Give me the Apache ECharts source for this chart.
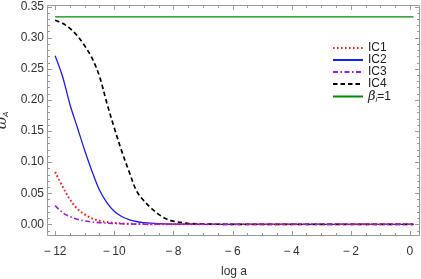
<!DOCTYPE html>
<html><head><meta charset="utf-8">
<script src="https://cdn.jsdelivr.net/npm/echarts@6/dist/echarts.min.js"></script>
<style>html,body{margin:0;padding:0;background:#fff}#c{width:421px;height:279px}#err{position:absolute;left:60px;top:120px;font:9px monospace;color:#c00;width:350px}</style>
</head><body><div id="c"></div><div id="err"></div>
<script>
window.onerror = function (m) { document.getElementById('err').textContent += ' ERR: ' + m; };
// ---- data ----
const seriesNames = ['IC1', 'IC2', 'IC3', 'IC4', 'β=1'];
const ic1 = [[-12,0.084],[-11.75,0.061],[-11.5,0.040],[-11.25,0.025],[-11,0.016],[-10.75,0.0095],[-10.5,0.0058],[-10.25,0.0036],[-10,0.0022],[-9.5,0.0009],[-9,0.0003],[-8,0],[0.12,0]];
const ic2 = [[-12,0.271],[-11.75,0.238],[-11.5,0.193],[-11.25,0.156],[-11,0.119],[-10.75,0.085],[-10.5,0.055],[-10.25,0.035],[-10,0.021],[-9.75,0.0125],[-9.5,0.0075],[-9.25,0.0045],[-9,0.0027],[-8.5,0.001],[-8,0.0004],[-7,0.00005],[-6,0],[0.12,0]];
const ic3 = [[-12,0.030],[-11.75,0.019],[-11.5,0.0125],[-11.25,0.0082],[-11,0.0055],[-10.75,0.0038],[-10.5,0.0027],[-10,0.0013],[-9.5,0.0006],[-9,0.0002],[-8,0],[0.12,0]];
const ic4 = [[-12,0.328],[-11.75,0.323],[-11.5,0.315],[-11.25,0.303],[-11,0.287],[-10.75,0.267],[-10.5,0.238],[-10.25,0.195],[-10,0.155],[-9.75,0.118],[-9.5,0.085],[-9.25,0.054],[-9,0.038],[-8.75,0.026],[-8.5,0.016],[-8.25,0.009],[-8,0.005],[-7.5,0.0015],[-7,0.0004],[-6,0],[0.12,0]];
const beta1 = [[-12,1/3],[0.12,1/3]];
const xMajor = [-12,-10,-8,-6,-4,-2,0];
const yMajor = [0,0.05,0.10,0.15,0.20,0.25,0.30,0.35];
const xName = 'log a';
// ---- layout ----
const xMin = -12.24, xMax = 0.34, yMin = -0.0188, yMax = 0.3525;
const xMinor = [];
for (let k = -24; k <= 0; k++) { if (k % 4 !== 0) xMinor.push(k/2); }
const yMinor = [];
for (let k = -1; k <= 35; k++) { if (k % 5 !== 0) yMinor.push(k/100); }
const frameColor = '#9a9a9a';
const font = 'Liberation Sans, Arial, sans-serif';

const lw = 1.3;
const option = {
  animation:false,
  grid:{left:48, right:1, top:5, bottom:43, containLabel:false, outerBoundsMode:'none'},
  xAxis:{ type:'value', min:xMin, max:xMax,
    axisLine:{show:false}, axisTick:{show:false}, splitLine:{show:false},
    axisLabel:{show:true, customValues: xMajor, margin:10, color:'#333', fontSize:12, fontFamily:font,
      formatter: v => v < 0 ? '\u2212\u2009' + Math.abs(v) : String(v)},
    name: xName, nameLocation:'middle', nameGap:30,
    nameTextStyle:{color:'#333', fontSize:12, fontFamily:font} },
  yAxis:{ type:'value', min:yMin, max:yMax,
    axisLine:{show:false}, axisTick:{show:false}, splitLine:{show:false},
    axisLabel:{show:true, customValues: yMajor, margin:4, color:'#333', fontSize:12, fontFamily:font,
      formatter: v => v.toFixed(2)},
    name: '{w|ω}{s|A}', nameLocation:'middle', nameGap:33, nameRotate:90,
    nameTextStyle:{rich:{w:{fontSize:15, fontStyle:'italic', fontFamily:'DejaVu Serif, serif', color:'#333'},
      s:{fontSize:8, fontStyle:'italic', fontFamily:font, color:'#333', verticalAlign:'bottom', padding:[6,0,0,0]}}} },
  legend:{ orient:'vertical', left:327, top:37, itemWidth:30, itemHeight:10, itemGap:0,
    itemStyle:{opacity:0},
    textStyle:{fontSize:12, fontFamily:font, color:'#222',
      rich:{b:{fontSize:13, lineHeight:14, fontStyle:'italic', fontFamily:'DejaVu Serif, serif', color:'#222'},
            i:{fontSize:8, lineHeight:14, fontStyle:'italic', fontFamily:font, color:'#222', verticalAlign:'bottom'},
            n:{fontSize:12, lineHeight:14, fontFamily:font, color:'#222'}}},
    formatter: n => n === 'β=1' ? '{b|β}{i|i}{n|=1}' : '{n|' + n + '}',
    data: seriesNames },
  series:[
    {name:seriesNames[4], type:'line', data:beta1, symbol:'none', z:2, lineStyle:{color:'#008a00', width:lw}, itemStyle:{color:'#008a00'}},
    {name:seriesNames[1], type:'line', data:ic2, symbol:'none', z:2, smooth:0.35, lineStyle:{color:'#1a1aff', width:lw}, itemStyle:{color:'#1a1aff'}},
    {name:seriesNames[3], type:'line', data:ic4, symbol:'none', z:2, smooth:0.35, lineStyle:{color:'#000', width:1.7, type:[4.5,3]}, itemStyle:{color:'#000'}},
    {name:seriesNames[0], type:'line', data:ic1, symbol:'none', z:2, smooth:0.35, lineStyle:{color:'#ff1a1a', width:2, type:[1.6,2.4]}, itemStyle:{color:'#ff1a1a'}},
    {name:seriesNames[2], type:'line', data:ic3, symbol:'none', z:2, smooth:0.35, lineStyle:{color:'#9a1ee6', width:1.6, type:[5,2.5,1.5,2.5]}, itemStyle:{color:'#9a1ee6'}}
  ]
};
const chart = echarts.init(document.getElementById('c'), null, {renderer:'canvas'});
chart.setOption(option);

// frame + inward ticks as graphic elements, positioned through the axis scales
const px = p => chart.convertToPixel({gridIndex:0}, p);
const a = px([xMin, yMin]), b = px([xMax, yMax]);
const L = Math.round(a[0]) - 0.5, B = Math.round(a[1]) - 0.5, R = Math.round(b[0]) - 0.5, T = Math.round(b[1]) + 0.5;
const st = {stroke: frameColor, lineWidth: 1};
const els = [{type:'rect', z:1, silent:true, shape:{x:L, y:T, width:R-L, height:B-T}, style:{fill:'rgba(0,0,0,0)', stroke:frameColor, lineWidth:1}}];
function xt(vals, len) { vals.forEach(v => { const x = Math.round(px([v, 0])[0]) + 0.5;
  els.push({type:'line', z:1, silent:true, shape:{x1:x, y1:B, x2:x, y2:B-len}, style:st});
  els.push({type:'line', z:1, silent:true, shape:{x1:x, y1:T, x2:x, y2:T+len}, style:st}); }); }
function yt(vals, len) { vals.forEach(v => { const y = Math.round(px([0, v])[1]) + 0.5;
  els.push({type:'line', z:1, silent:true, shape:{x1:L, y1:y, x2:L+len, y2:y}, style:st});
  els.push({type:'line', z:1, silent:true, shape:{x1:R, y1:y, x2:R-len, y2:y}, style:st}); }); }
xt(xMajor, 4.5); xt(xMinor, 2.5); yt(yMajor, 4.5); yt(yMinor, 2.5);
chart.setOption({graphic:{elements: els}});
</script></body></html>
